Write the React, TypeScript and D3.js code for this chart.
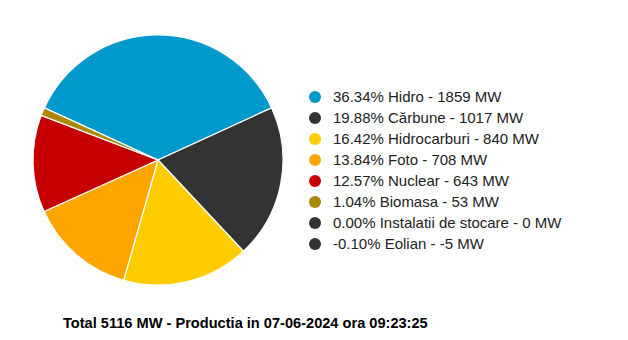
import React from "react";
import * as d3 from "d3";

const categories = ["Hidro", "Cărbune", "Hidrocarburi", "Foto", "Nuclear", "Biomasa", "Instalatii de stocare", "Eolian"];
const values = [1859, 1017, 840, 708, 643, 53, 0, -5];
const percents = ["36.34%", "19.88%", "16.42%", "13.84%", "12.57%", "1.04%", "0.00%", "-0.10%"];
const colors = ["#0099cc", "#333333", "#ffcc00", "#ffa500", "#c60000", "#aa8800", "#333333", "#333333"];
const total = 5116;
const dateLabel = "07-06-2024";
const timeLabel = "09:23:25";

export default function App() {
  const W = 628, H = 340;
  const cx = 158, cy = 160, r = 125;
  const data = categories.map((c, i) => ({ c, v: values[i], p: percents[i], col: colors[i] }));
  const positive = data.filter(d => d.v > 0);
  const sumPos = d3.sum(positive, d => d.v);
  const offset = -(positive[0].v / sumPos) * Math.PI;
  const pie = d3.pie<any>().value(d => d.v).sort(null).startAngle(offset).endAngle(offset + 2 * Math.PI);
  const arcs = pie(positive);
  const arc = d3.arc<any>().innerRadius(0).outerRadius(r);
  const legendY = d3.scaleLinear().domain([0, 1]).range([97, 118]);
  return (
    <svg width={W} height={H} style={{ position: "absolute", left: 0, top: 0 }} fontFamily="Arial, 'Liberation Sans', sans-serif">
      <rect width={W} height={H} fill="#fff" />
      <g transform={`translate(${cx},${cy})`}>
        {arcs.map((a, i) => (
          <path key={i} d={arc(a) as string} fill={a.data.col} stroke="#fff" strokeWidth={1.2} />
        ))}
      </g>
      {data.map((d, i) => (
        <g key={i} transform={`translate(0,${legendY(i)})`}>
          <circle cx={315} cy={0} r={6} fill={d.col} />
          <text x={333} y={5.3} fontSize={15} fill="#222">{`${d.p} ${d.c} - ${d.v} MW`}</text>
        </g>
      ))}
      <text x={63} y={328} fontSize={14.6} fontWeight="bold" fill="#000">{`Total ${total} MW - Productia in ${dateLabel} ora ${timeLabel}`}</text>
    </svg>
  );
}
